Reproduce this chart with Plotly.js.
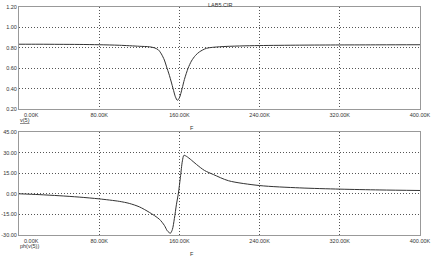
<!DOCTYPE html>
<html>
<head>
<meta charset="utf-8">
<script src="https://cdn.plot.ly/plotly-3.0.1.min.js"></script>
<style>html,body{margin:0;padding:0;background:#fff;}#chart{width:434px;height:258px;}</style>
</head>
<body>
<div id="chart"></div>
<script>
// Frequency in kHz
const magFreq = [0, 20, 40, 60, 80, 100, 120, 130, 135, 139, 142, 145, 147, 150, 153.7, 156, 158, 160, 162.7, 165, 168.7, 172, 176, 180, 187, 200, 220, 240, 280, 320, 360, 400];
const magV5   = [0.835, 0.835, 0.834, 0.833, 0.830, 0.825, 0.815, 0.81, 0.80, 0.78, 0.74, 0.68, 0.62, 0.53, 0.40, 0.32, 0.285, 0.31, 0.40, 0.49, 0.60, 0.67, 0.725, 0.76, 0.795, 0.81, 0.818, 0.822, 0.826, 0.828, 0.829, 0.83];

const phFreq  = [0, 20, 40, 60, 80, 100, 110, 120, 130, 140, 145, 148, 151, 153, 155, 157, 159, 161, 163, 164.5, 167, 172, 177, 185, 194, 209, 240, 280, 320, 360, 400];
const phV5    = [0, -0.6, -1.4, -2.4, -3.7, -5.5, -7, -9.5, -13.5, -18.5, -23, -27, -28.7, -26, -18, -8, 0.5, 12, 24, 28, 27.3, 24.5, 21.4, 17, 14, 9.5, 6, 4.3, 3.4, 2.8, 2.4];

const xTickVals  = [80, 160, 240, 320, 400];
const xTickText  = ['80.00K', '160.00K', '240.00K', '320.00K', '400.00K'];
const magTicks   = [0.2, 0.4, 0.6, 0.8, 1.0, 1.2];
const magTickText = ['0.20', '0.40', '0.60', '0.80', '1.00', '1.20'];
const phTicks    = [-30, -15, 0, 15, 30, 45];
const phTickText = ['-30.00', '-15.00', '0.00', '15.00', '30.00', '45.00'];

const font = {family: 'Liberation Sans, Arial, sans-serif', size: 5.5, color: '#333'};
const gridStyle = {showgrid: true, gridcolor: '#555', griddash: '1px,2px', gridwidth: 1,
  showline: true, linecolor: '#999', linewidth: 1, mirror: true, zeroline: false, ticks: '',
  tickfont: font};

const traces = [
  {x: magFreq, y: magV5, xaxis: 'x', yaxis: 'y', mode: 'lines',
   line: {color: '#333', width: 1, shape: 'spline', smoothing: 0.8}, hoverinfo: 'none'},
  {x: phFreq, y: phV5, xaxis: 'x2', yaxis: 'y2', mode: 'lines',
   line: {color: '#333', width: 1, shape: 'spline', smoothing: 0.8}, hoverinfo: 'none'}
];

const layout = {
  width: 434, height: 258,
  margin: {l: 19, r: 14, t: 7, b: 23},
  paper_bgcolor: '#fff', plot_bgcolor: '#fff',
  showlegend: false,
  font: font,
  xaxis: Object.assign({}, gridStyle, {domain: [0, 1], anchor: 'y', range: [0, 400],
    tickvals: xTickVals, ticktext: xTickText, ticklabelstandoff: 0}),
  yaxis: Object.assign({}, gridStyle, {domain: [0.5526, 1], anchor: 'x', range: [0.2, 1.2],
    tickvals: magTicks, ticktext: magTickText, ticklabelstandoff: 0}),
  xaxis2: Object.assign({}, gridStyle, {domain: [0, 1], anchor: 'y2', range: [0, 400],
    tickvals: xTickVals, ticktext: xTickText, ticklabelstandoff: 0}),
  yaxis2: Object.assign({}, gridStyle, {domain: [0, 0.4518], anchor: 'x2', range: [-30, 45],
    tickvals: phTicks, ticktext: phTickText, ticklabelstandoff: 0}),
  annotations: [
    {text: 'LAB5.CIR', xref: 'paper', yref: 'paper', x: 0.5, y: 1, yshift: 7, xanchor: 'center', yanchor: 'top', showarrow: false, font: font},
    {text: '0.00K', xref: 'x', yref: 'paper', x: 0, xshift: 3, y: 0.5526, yshift: -1, xanchor: 'left', yanchor: 'top', showarrow: false, font: font},
    {text: '<u>v(5)</u>', xref: 'paper', yref: 'paper', x: 0, xshift: -1, y: 0.5526, yshift: -6, xanchor: 'left', yanchor: 'top', showarrow: false, font: font},
    {text: 'F', xref: 'x', yref: 'paper', x: 173, y: 0.5526, yshift: -14, xanchor: 'center', yanchor: 'top', showarrow: false, font: font},
    {text: '0.00K', xref: 'x2', yref: 'paper', x: 0, xshift: 3, y: 0, yshift: -1, xanchor: 'left', yanchor: 'top', showarrow: false, font: font},
    {text: 'ph(v(5))', xref: 'paper', yref: 'paper', x: 0, xshift: -1, y: 0, yshift: -6, xanchor: 'left', yanchor: 'top', showarrow: false, font: font},
    {text: 'F', xref: 'x2', yref: 'paper', x: 173, y: 0, yshift: -14, xanchor: 'center', yanchor: 'top', showarrow: false, font: font}
  ]
};

Plotly.newPlot('chart', traces, layout, {staticPlot: true, displayModeBar: false});
</script>
</body>
</html>
